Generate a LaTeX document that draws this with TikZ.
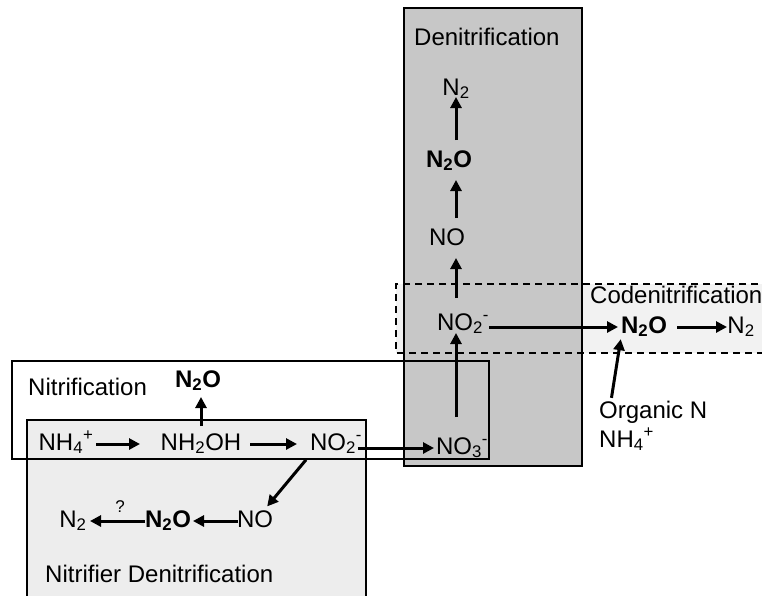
\documentclass[tikz,border=0pt]{standalone}
\usepackage{fontspec}
\setmainfont{Liberation Sans}
\usetikzlibrary{arrows.meta}

\begin{document}
\begin{tikzpicture}[x=1pt, y=-1pt, >={Triangle[length=11pt, width=11pt]},
    font=\fontsize{24}{29}\selectfont,
    chem/.style={inner sep=0pt, text height=17pt, text depth=5pt},
    flow/.style={->, line width=3pt}]
  \useasboundingbox (0,0) rectangle (762,595);
  % Process boxes
  \fill[black!5] (396,284) rectangle (770,353);
  \draw[line width=1.3pt, fill=black!7] (27,600) -- (27,420) -- (366,420) -- (366,600);
  \draw[line width=1.8pt, fill=black!22] (404,8) rectangle (582,466);
  \draw[line width=1.3pt, dash pattern=on 7pt off 5pt] (770,284) -- (396,284) -- (396,353) -- (770,353);
  \draw[line width=1.3pt] (12,361) rectangle (489,459);
  % Box labels
  \node[anchor=base west, inner sep=0pt] (lblden) at (414,45) {Denitrification};
  \node[anchor=base west, inner sep=0pt] (lblcod) at (590,303) {Codenitrification};
  \node[anchor=base west, inner sep=0pt] (lblnit) at (28,395) {Nitrification};
  \node[anchor=base west, inner sep=0pt] (lblnd) at (45,582) {Nitrifier Denitrification};
  % Nitrification
  \node[chem] (nh4) at (66,444) {NH\textsubscript{4}\textsuperscript{+}};
  \node[chem] (nh2oh) at (201,444) {NH\textsubscript{2}OH};
  \node[chem] (no2n) at (336,444) {NO\textsubscript{2}\textsuperscript{-}};
  \node[chem] (no3) at (462,448) {NO\textsubscript{3}\textsuperscript{-}};
  \node[chem] (n2on) at (198,381) {\textbf{N\textsubscript{2}O}};
  % Nitrifier denitrification
  \node[chem] (nond) at (255,521) {NO};
  \node[chem] (n2ond) at (168,521) {\textbf{N\textsubscript{2}O}};
  \node[chem] (n2nd) at (73,521) {N\textsubscript{2}};
  \node[inner sep=0pt, font=\fontsize{17}{20}\selectfont] (qmark) at (120,507) {?};
  % Denitrification
  \coordinate (axis) at (456,0);
  \node[chem] (no2d) at (463,324) {NO\textsubscript{2}\textsuperscript{-}};
  \node[chem] (nod) at (447,239) {NO};
  \node[chem] (n2od) at (449,161) {\textbf{N\textsubscript{2}O}};
  \node[chem] (n2d) at (456,89) {N\textsubscript{2}};
  % Codenitrification
  \node[chem] (n2oco) at (644,327) {\textbf{N\textsubscript{2}O}};
  \node[chem] (n2co) at (741,327) {N\textsubscript{2}};
  \node[chem, anchor=west] (orgn) at (599,412) {Organic N};
  \node[chem, anchor=west] (nh4co) at (599,441) {NH\textsubscript{4}\textsuperscript{+}};
  % Nitrification arrows
  \draw[flow, shorten <=30pt, shorten >=61pt] (nh4.center) -- (nh2oh.center);
  \draw[flow, shorten <=49pt, shorten >=39pt] (nh2oh.center) -- (no2n.center);
  \draw[flow, shorten <=22pt, shorten >=28pt] (no2n.center |- no3.center) -- (no3.center);
  \draw[flow, shorten <=18pt, shorten >=16pt] (nh2oh.center) -- (nh2oh.center |- n2on.center);
  % Nitrifier denitrification arrows
  \draw[flow, shorten <=6pt, shorten >=19pt] (no2n.south west) -- (nond.center);
  \draw[flow, shorten <=17pt, shorten >=25pt] (nond.center) -- (n2ond.center);
  \draw[flow, shorten <=23pt, shorten >=17pt] (n2ond.center) -- (n2nd.center);
  % Denitrification arrows
  \draw[flow, shorten <=31pt, shorten >=9pt] (axis |- no3.center) -- (axis |- no2d.center);
  \draw[flow, shorten <=26pt, shorten >=19pt] (axis |- no2d.center) -- (axis |- nod.center);
  \draw[flow, shorten <=21pt, shorten >=19pt] (axis |- nod.center) -- (axis |- n2od.center);
  \draw[flow, shorten <=21pt, shorten >=8pt] (axis |- n2od.center) -- (axis |- n2d.center);
  % Codenitrification arrows
  \draw[flow, shorten <=26pt, shorten >=26pt] (no2d.center |- n2oco.center) -- (n2oco.center);
  \draw[flow, shorten <=33pt, shorten >=14pt] (n2oco.center) -- (n2co.center);
  \draw[flow, shorten <=3pt, shorten >=1pt] ([xshift=12pt]orgn.north west) -- (n2oco.south west);
\end{tikzpicture}
\end{document}
